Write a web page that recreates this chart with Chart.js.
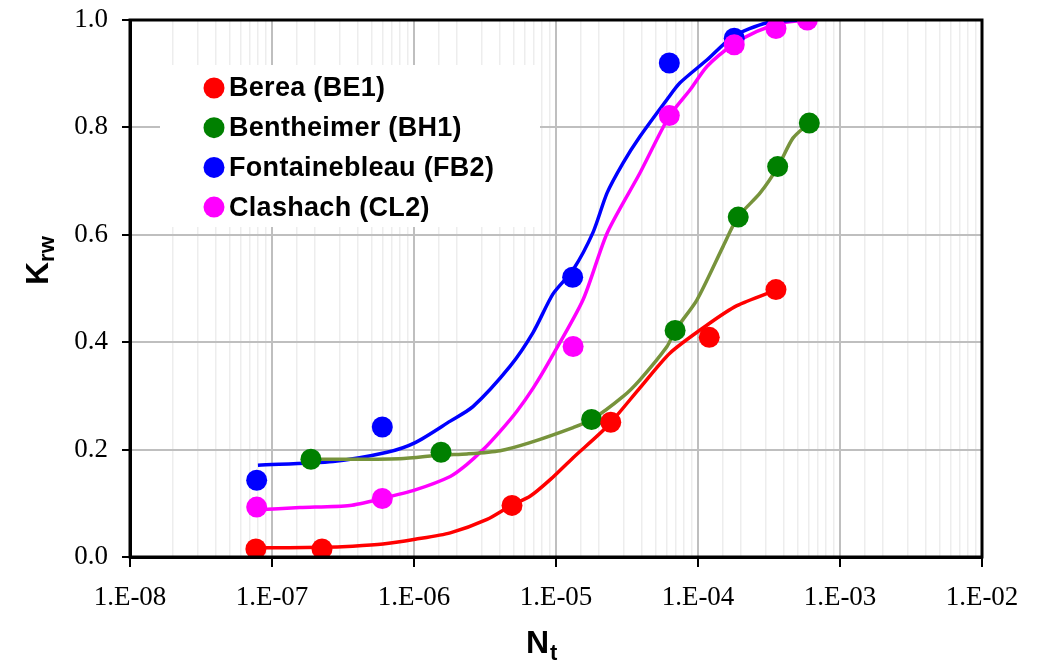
<!DOCTYPE html>
<html>
<head>
<meta charset="utf-8">
<script src="https://cdn.jsdelivr.net/npm/chart.js@4.4.0/dist/chart.umd.min.js"></script>
<style>
  html, body { margin: 0; padding: 0; background: #fff; }
</style>
</head>
<body>
<canvas id="krwChart" width="1038" height="661"></canvas>
<script>
// measured points (markers)
const seriesNames = ['Berea (BE1)', 'Bentheimer (BH1)', 'Fontainebleau (FB2)', 'Clashach (CL2)'];
const markerColors = ['#FF0000', '#008000', '#0000FF', '#FF00FF'];
const lineColors = ['#FF0000', '#77933C', '#0000FF', '#FF00FF'];

const beNt = [7.7e-8, 2.25e-7, 4.9e-6, 2.43e-5, 1.2e-4, 3.54e-4];
const beKrw = [0.015, 0.015, 0.096, 0.251, 0.409, 0.498];
const bhNt = [1.88e-7, 1.55e-6, 1.78e-5, 6.9e-5, 1.92e-4, 3.64e-4, 6.08e-4];
const bhKrw = [0.182, 0.195, 0.256, 0.422, 0.633, 0.727, 0.808];
const fbNt = [7.8e-8, 5.98e-7, 1.31e-5, 6.28e-5, 1.8e-4];
const fbKrw = [0.143, 0.242, 0.521, 0.920, 0.966];
const clNt = [7.8e-8, 5.98e-7, 1.32e-5, 6.28e-5, 1.8e-4, 3.54e-4, 5.89e-4];
const clKrw = [0.093, 0.109, 0.392, 0.822, 0.954, 0.984, 1.0];

// fitted curves
const beFitNt = [7.7e-8, 2.25e-7, 3.7e-7, 6.05e-7, 1.02e-6, 1.8e-6, 3.27e-6, 4.9e-6, 6.56e-6, 9.1e-6, 1.32e-5, 2.29e-5, 3.9e-5, 6.36e-5, 1.16e-4, 1.88e-4, 3.54e-4];
const beFitKrw = [0.017, 0.018, 0.020, 0.024, 0.033, 0.045, 0.070, 0.097, 0.113, 0.144, 0.185, 0.243, 0.315, 0.380, 0.432, 0.468, 0.497];
const bhFitNt = [1.88e-7, 7.96e-7, 1.55e-6, 2.36e-6, 4.04e-6, 6.56e-6, 1.32e-5, 1.79e-5, 2.97e-5, 3.9e-5, 6.05e-5, 6.9e-5, 9.84e-5, 1.5e-4, 1.91e-4, 2.74e-4, 3.66e-4, 4.66e-4, 6.05e-4];
const bhFitKrw = [0.182, 0.183, 0.190, 0.192, 0.198, 0.213, 0.241, 0.256, 0.299, 0.330, 0.392, 0.422, 0.479, 0.578, 0.633, 0.678, 0.727, 0.780, 0.808];
const fbFitNt = [7.96e-8, 2.69e-7, 6.46e-7, 1.02e-6, 1.8e-6, 2.6e-6, 4.74e-6, 6.89e-6, 9.53e-6, 1.32e-5, 1.82e-5, 2.29e-5, 2.97e-5, 3.9e-5, 6.05e-5, 7.47e-5, 1.16e-4, 1.76e-4, 3.06e-4, 5.22e-4];
const fbFitKrw = [0.171, 0.178, 0.195, 0.213, 0.253, 0.280, 0.355, 0.418, 0.490, 0.535, 0.604, 0.678, 0.734, 0.783, 0.852, 0.883, 0.926, 0.969, 0.995, 1.0];
const clFitNt = [7.83e-8, 1.57e-7, 3.54e-7, 5.96e-7, 1.02e-6, 1.8e-6, 2.35e-6, 3.07e-6, 4.04e-6, 5.29e-6, 6.92e-6, 9.08e-6, 1.55e-5, 2.29e-5, 3.9e-5, 6.25e-5, 8.8e-5, 1.16e-4, 1.76e-4, 2.6e-4, 3.97e-4, 5.86e-4];
const clFitKrw = [0.088, 0.092, 0.096, 0.109, 0.125, 0.150, 0.172, 0.200, 0.234, 0.271, 0.315, 0.367, 0.479, 0.603, 0.715, 0.820, 0.870, 0.914, 0.954, 0.979, 0.995, 1.0];

const yTicks = [0, 0.2, 0.4, 0.6, 0.8, 1.0];

const toPoints = (xs, ys) => xs.map((x, i) => ({ x, y: ys[i] }));

const markerSets = [[beNt, beKrw], [bhNt, bhKrw], [fbNt, fbKrw], [clNt, clKrw]];
const fitSets = [[beFitNt, beFitKrw], [bhFitNt, bhFitKrw], [fbFitNt, fbFitKrw], [clFitNt, clFitKrw]];
const markerOrder = [1, 3, 2, 0];

const datasets = [];
markerSets.forEach(([xs, ys], i) => {
  datasets.push({
    label: seriesNames[i],
    data: toPoints(xs, ys),
    showLine: false,
    pointRadius: 10.5,
    pointHoverRadius: 10.5,
    pointBorderWidth: 0,
    backgroundColor: markerColors[i],
    borderColor: markerColors[i],
    order: markerOrder[i],
    isMarker: true
  });
});
fitSets.forEach(([xs, ys], i) => {
  datasets.push({
    label: seriesNames[i] + ' fit',
    data: toPoints(xs, ys),
    showLine: true,
    pointRadius: 0,
    borderWidth: 3.5,
    borderColor: lineColors[i],
    backgroundColor: lineColors[i],
    tension: 0.25,
    order: 10
  });
});

const isDecade = v => {
  const e = Math.round(Math.log10(v));
  return Math.abs(v / Math.pow(10, e) - 1) < 1e-6;
};

const serif = "'Times New Roman', 'Liberation Serif', serif";
const sans = "Arial, 'Liberation Sans', sans-serif";

// frame, legend box and subscripted axis titles
const decorPlugin = {
  id: 'decor',
  beforeDatasetsDraw(chart) {
    const { ctx } = chart;
    ctx.save();
    ctx.fillStyle = '#fff';
    ctx.fillRect(160, 65, 380, 162);
    ctx.font = 'bold 27px ' + sans;
    ctx.textBaseline = 'middle';
    ctx.textAlign = 'left';
    if ('letterSpacing' in ctx) ctx.letterSpacing = '0.3px';
    chart.data.datasets.filter(d => d.isMarker).forEach((d, i) => {
      const y = 88 + i * 39.7;
      ctx.fillStyle = d.backgroundColor;
      ctx.beginPath();
      ctx.arc(214, y, 10.5, 0, Math.PI * 2);
      ctx.fill();
      ctx.fillStyle = '#000';
      ctx.fillText(d.label, 229, y + 1);
    });
    ctx.restore();
  },
  afterDraw(chart) {
    const { ctx, chartArea: a } = chart;
    ctx.save();
    ctx.strokeStyle = '#000';
    ctx.lineWidth = 3;
    ctx.strokeRect(a.left, a.top, a.right - a.left, a.bottom - a.top);

    ctx.fillStyle = '#000';
    ctx.textBaseline = 'alphabetic';
    ctx.textAlign = 'left';
    ctx.font = 'bold 32px ' + sans;
    ctx.fillText('N', 526, 653);
    ctx.font = 'bold 22px ' + sans;
    ctx.fillText('t', 550, 660);

    ctx.translate(48, 285);
    ctx.rotate(-Math.PI / 2);
    ctx.font = 'bold 32px ' + sans;
    ctx.fillText('K', 0, 0);
    const kw = ctx.measureText('K').width;
    ctx.font = 'bold 22px ' + sans;
    ctx.fillText('rw', kw, 6);
    ctx.restore();
  }
};

new Chart(document.getElementById('krwChart'), {
  type: 'scatter',
  data: { datasets },
  options: {
    responsive: false,
    animation: false,
    devicePixelRatio: 1,
    layout: { padding: { top: 20, right: 56, left: 0, bottom: 0 } },
    plugins: {
      legend: { display: false },
      tooltip: { enabled: false }
    },
    scales: {
      x: {
        type: 'logarithmic',
        min: 1e-8,
        max: 1e-2,
        afterFit: s => { s.height = 104; },
        border: { display: true, color: '#000', width: 3 },
        grid: {
          color: c => isDecade(c.tick.value) ? '#BFBFBF' : '#EDEDED',
          lineWidth: c => isDecade(c.tick.value) ? 2 : 1.5,
          tickColor: c => isDecade(c.tick.value) ? '#000' : 'rgba(0,0,0,0)',
          tickLength: 10,
          tickWidth: 2
        },
        ticks: {
          autoSkip: false,
          maxRotation: 0,
          padding: 15,
          color: '#000',
          font: { family: serif, size: 27 },
          callback: v => {
            if (!isDecade(v)) return '';
            const e = Math.round(Math.log10(v));
            return '1.E' + (e < 0 ? '-' : '+') + String(Math.abs(e)).padStart(2, '0');
          }
        }
      },
      y: {
        min: 0,
        max: 1,
        afterFit: s => { s.width = 130; s.paddingTop = 0; s.paddingBottom = 0; },
        afterBuildTicks: s => { s.ticks = yTicks.map(v => ({ value: v })); },
        border: { display: true, color: '#000', width: 3 },
        grid: {
          color: '#BFBFBF',
          lineWidth: 2,
          tickColor: '#000',
          tickLength: 8,
          tickWidth: 2
        },
        ticks: {
          padding: 14,
          color: '#000',
          font: { family: serif, size: 27 },
          callback: v => v.toFixed(1)
        }
      }
    }
  },
  plugins: [decorPlugin]
});
</script>
</body>
</html>
